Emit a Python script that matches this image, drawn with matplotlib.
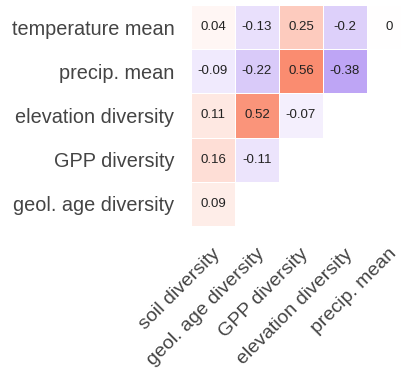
import numpy as np
import matplotlib
matplotlib.use('Agg')
import matplotlib.pyplot as plt
import matplotlib.transforms as mtransforms
from matplotlib.colors import LinearSegmentedColormap

# Etiquetas
row_labels = ['temperature mean', 'precip. mean', 'elevation diversity',
              'GPP diversity', 'geol. age diversity']
col_labels = ['soil diversity', 'geol. age diversity', 'GPP diversity',
              'elevation diversity', 'precip. mean']

# Correlações (NaN = célula oculta)
row_temp = [0.04, -0.13, 0.25, -0.2, 0.0]
row_precip = [-0.09, -0.22, 0.56, -0.38, np.nan]
row_elev = [0.11, 0.52, -0.07, np.nan, np.nan]
row_gpp = [0.16, -0.11, np.nan, np.nan, np.nan]
row_geol = [0.09, np.nan, np.nan, np.nan, np.nan]

corr = np.array([row_temp, row_precip, row_elev, row_gpp, row_geol])

cmap = LinearSegmentedColormap.from_list(
    'pw', [(84/255, 18/255, 229/255), (1, 1, 1), (246/255, 50/255, 0)])

plt.rcParams['font.family'] = ['Liberation Sans', 'DejaVu Sans']

fig = plt.figure(figsize=(4.02, 3.68), dpi=100)
ax = fig.add_axes([191/402, 1 - 226/368, 220/402, 221/368])

data = np.ma.masked_invalid(corr)
ax.pcolormesh(data, cmap=cmap, vmin=-1, vmax=1, edgecolors='white', linewidth=0.4)
ax.set_xlim(0, 5)
ax.set_ylim(5, 0)

for i in range(corr.shape[0]):
    for j in range(corr.shape[1]):
        v = corr[i, j]
        if np.isnan(v):
            continue
        txt = '0' if v == 0 else f'{v:g}'
        ax.text(j + 0.5, i + 0.5, txt, ha='center', va='center',
                fontsize=9.5, color='#222222')

ax.set_xticks(np.arange(5) + 0.5)
ax.set_yticks(np.arange(5) + 0.5)
ax.set_xticklabels(col_labels, rotation=45, ha='right', va='center',
                   rotation_mode='anchor', fontsize=14, color='#444444')
ax.set_yticklabels(row_labels, fontsize=14.3, color='#444444')
ax.tick_params(length=0)
ax.tick_params(axis='y', pad=12)
ax.tick_params(axis='x', pad=14)
shift = mtransforms.ScaledTranslation(5/100, -6/100, fig.dpi_scale_trans)
for lbl in ax.get_xticklabels():
    lbl.set_transform(lbl.get_transform() + shift)
for s in ax.spines.values():
    s.set_visible(False)

fig.savefig('out.png', dpi=100)
